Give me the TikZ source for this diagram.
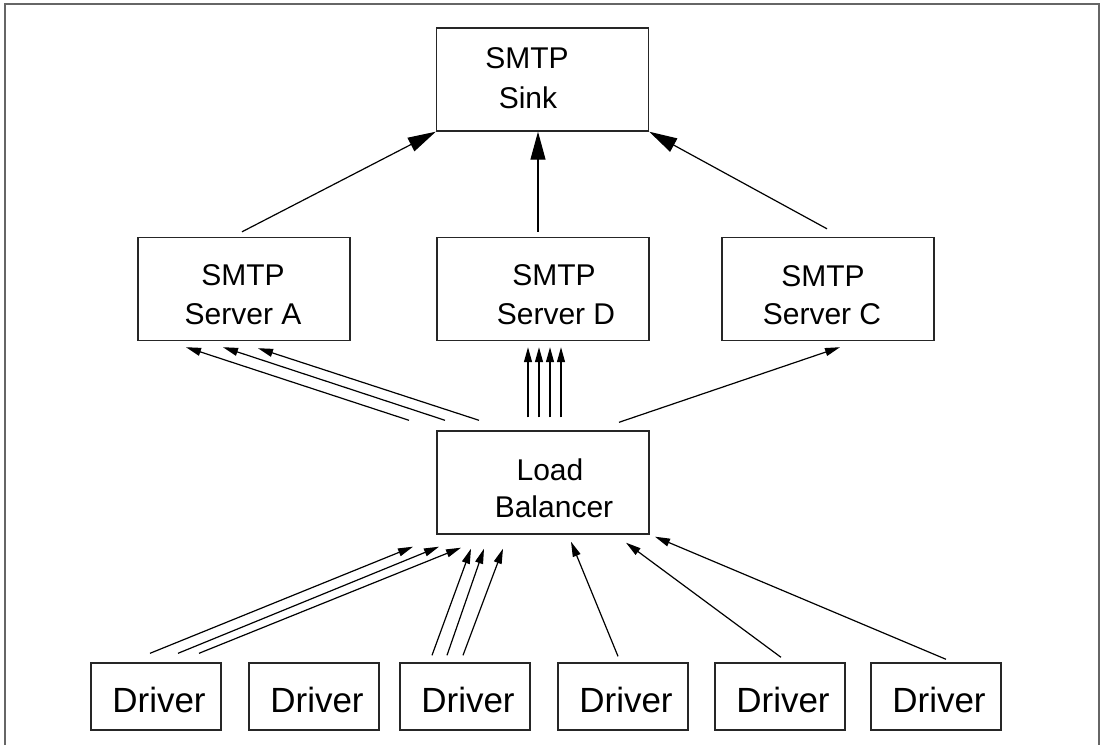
\documentclass[tikz,border=0pt]{standalone}
\usepackage{fontspec}
\setmainfont{Liberation Sans}
\usetikzlibrary{arrows.meta,calc}
\begin{document}
\begin{tikzpicture}[x=1pt,y=-1pt,
  box/.style={draw=black!85,line width=1.4pt,inner sep=0pt,minimum width=212pt,minimum height=103pt},
  drv/.style={draw=black!85,line width=1.4pt,inner sep=0pt,minimum width=130pt,minimum height=67pt},
  lbl/.style={anchor=base,inner sep=0pt,font=\fontsize{30}{36}\selectfont},
  dlbl/.style={anchor=base,inner sep=0pt,font=\fontsize{35}{42}\selectfont},
  big/.style={line width=1.2pt,-{Triangle[length=28pt,width=15pt]}},
  small/.style={line width=1.2pt,-{Triangle[length=15pt,width=8pt]}},
  frame/.style={draw=black!60,line width=1.6pt}
]
\path[use as bounding box] (0,0) rectangle (1101,745);
\draw[frame] (5,745) -- (5,4) -- (1099,4) -- (1099,745);

% boxes
\node[box] (sink) at (542.5,79.5) {};
\node[box] (sA) at (244,289) {};
\node[box] (sD) at (543,289) {};
\node[box] (sC) at (828,289) {};
\node[box] (lb) at (543,482.5) {};
\foreach \i/\x in {1/156,2/314,3/465,4/623,5/780,6/936}{
  \node[drv] (d\i) at (\x,696.5) {};
  \node[dlbl] (dt\i) at (\x+3,712) {Driver};
}

% labels
\node[lbl] (sinkT1) at (527,68) {SMTP};
\node[lbl] (sinkT2) at (528,108) {Sink};
\node[lbl] (sAT1) at (243,285) {SMTP};
\node[lbl] (sAT2) at (243,324) {Server A};
\node[lbl] (sDT1) at (554,285) {SMTP};
\node[lbl] (sDT2) at (556,324) {Server D};
\node[lbl] (sCT1) at (823,286) {SMTP};
\node[lbl] (sCT2) at (822,324) {Server C};
\node[lbl] (lbT1) at (550,480) {Load};
\node[lbl] (lbT2) at (554,517) {Balancer};

% servers -> sink
\draw[big] ($(sA.north)+(-2,-5)$) -- (sink.south west);
\draw[big] ($(sD.north)+(-5,-5)$) -- ($(sink.south)+(-4.5,0)$);
\draw[big] ($(sC.north)+(-1,-8)$) -- (sink.south east);

% load balancer -> servers
\draw[small] ($(lb.north)+(-134,-10)$) -- ($(sA.south)+(-58,6)$);
\draw[small] ($(lb.north)+(-98,-10)$) -- ($(sA.south)+(-21,6)$);
\draw[small] ($(lb.north)+(-64,-10)$) -- ($(sA.south)+(14,7)$);
\foreach \dx in {-15,-4,7,18}{
  \draw[small] ($(lb.north)+(\dx,-13)$) -- ($(sD.south)+(\dx,6)$);
}
\draw[small] ($(lb.north)+(76,-8)$) -- ($(sC.south)+(12,6)$);

% drivers -> load balancer
\draw[small] ($(d1.north)+(-6,-9)$) -- ($(lb.south)+(-130,12)$);
\draw[small] ($(d1.north)+(22,-9)$) -- ($(lb.south)+(-104,12)$);
\draw[small] ($(d1.north)+(43,-9)$) -- ($(lb.south)+(-82,13)$);
\draw[small] ($(d3.north)+(-33,-7)$) -- ($(lb.south)+(-72,14)$);
\draw[small] ($(d3.north)+(-18,-7)$) -- ($(lb.south)+(-59,14)$);
\draw[small] ($(d3.north)+(-2,-7)$) -- ($(lb.south)+(-40,14)$);
\draw[small] ($(d4.north)+(-5,-6)$) -- ($(lb.south)+(28,7)$);
\draw[small] ($(d5.north)+(1,-5)$) -- ($(lb.south)+(83,8)$);
\draw[small] ($(d6.north)+(10,-3)$) -- ($(lb.south)+(112,2)$);
\end{tikzpicture}
\end{document}
